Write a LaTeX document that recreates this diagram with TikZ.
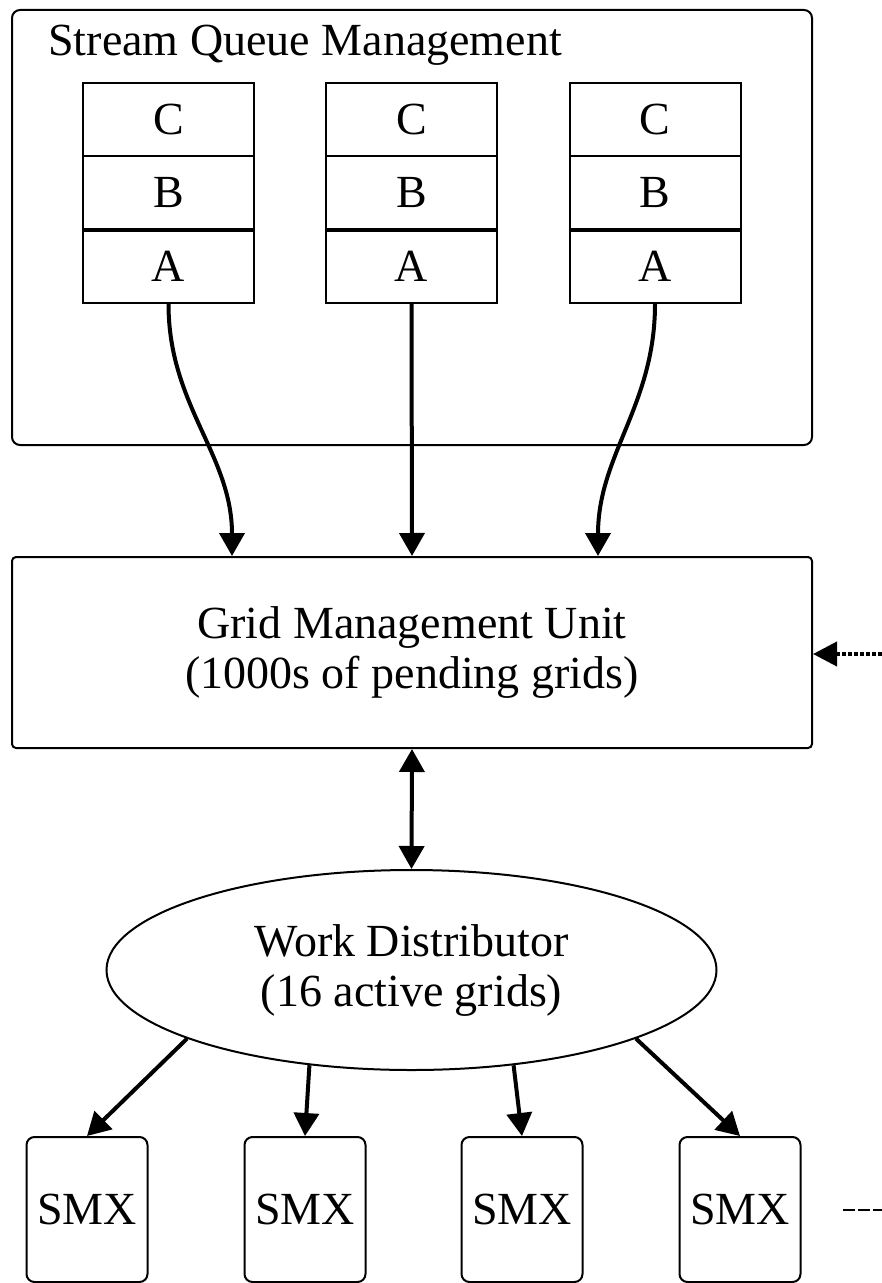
\documentclass[tikz,border=0pt]{standalone}
\usepackage{fontspec}
\setmainfont{Liberation Serif}
\usetikzlibrary{arrows.meta,shapes.geometric}
\tikzset{
	cell/.style = {draw, line width=1pt, minimum width=85.5pt,
		minimum height=36.5pt, inner sep=0pt},
	unit/.style = {draw, line width=1pt, rounded corners=#1,
		inner sep=0pt, align=center},
	unit/.default = 4pt,
	flow/.style = {line width=2pt, -{Triangle[length=11.5pt,width=12.5pt]}}
}

\begin{document}
\begin{tikzpicture}[x=0.5pt, y=0.5pt, font=\fontsize{23}{25}\selectfont]
\useasboundingbox (0,0) rectangle (882,-1283);

\node[unit, minimum width=400pt, minimum height=217.5pt] (sqm) at (412,-227.5) {};
\node[anchor=base west, inner sep=0pt] (title) at (48,-56) {Stream Queue Management};

\node[cell] (c1) at (168.5,-119.5) {C};
\node[cell] (b1) at (168.5,-193) {B};
\node[cell] (a1) at (168.5,-266.5) {A};
\node[cell] (c2) at (411.5,-119.5) {C};
\node[cell] (b2) at (411.5,-193) {B};
\node[cell] (a2) at (411.5,-266.5) {A};
\node[cell] (c3) at (655,-119.5) {C};
\node[cell] (b3) at (655,-193) {B};
\node[cell] (a3) at (655,-266.5) {A};
\draw[line width=1.6pt] (b1.south west) -- (b1.south east);
\draw[line width=1.6pt] (b2.south west) -- (b2.south east);
\draw[line width=1.6pt] (b3.south west) -- (b3.south east);

\node[unit=2pt, minimum width=400pt, minimum height=95.5pt] (gmu) at (412,-652.5)
	{Grid Management Unit\\(1000s of pending grids)};

\node[draw, ellipse, line width=1pt, minimum width=305pt, minimum height=100pt,
	inner sep=0pt, align=center] (wd) at (411.5,-970)
	{Work Distributor\\(16 active grids)};

\node[unit, minimum width=60.5pt, minimum height=72.5pt] (smx1) at (87,-1209.5) {SMX};
\node[unit, minimum width=60.5pt, minimum height=72.5pt] (smx2) at (305,-1209.5) {SMX};
\node[unit, minimum width=60.5pt, minimum height=72.5pt] (smx3) at (522,-1209.5) {SMX};
\node[unit, minimum width=60.5pt, minimum height=72.5pt] (smx4) at (740,-1209.5) {SMX};

\draw[flow] (a1.south) to[out=-90, in=90] ([xshift=-90pt]gmu.north);
\draw[flow] (a2.south) -- (gmu.north);
\draw[flow] (a3.south) to[out=-90, in=90] ([xshift=93pt]gmu.north);

\draw[flow, {Triangle[length=11.5pt,width=12.5pt]}-{Triangle[length=11.5pt,width=12.5pt]}]
	(gmu.south) -- (wd.north);

\draw[flow] (wd.197) -- (smx1.north);
\draw[flow] (wd.223) -- (smx2.north);
\draw[flow] (wd.317) -- (smx3.north);
\draw[flow] (wd.343) -- (smx4.north);

\coordinate (host) at (882,-654);
\draw[line width=2pt, dash pattern=on 2pt off 1pt,
	-{Triangle[length=12pt,width=12pt]}] (host) -- (gmu.east |- host);

\coordinate (more) at (843,-1210);
\coordinate (edge) at (882,-1210);
\draw[line width=1.3pt, dash pattern=on 6pt off 1.5pt] (more) -- (edge);
\end{tikzpicture}
\end{document}
